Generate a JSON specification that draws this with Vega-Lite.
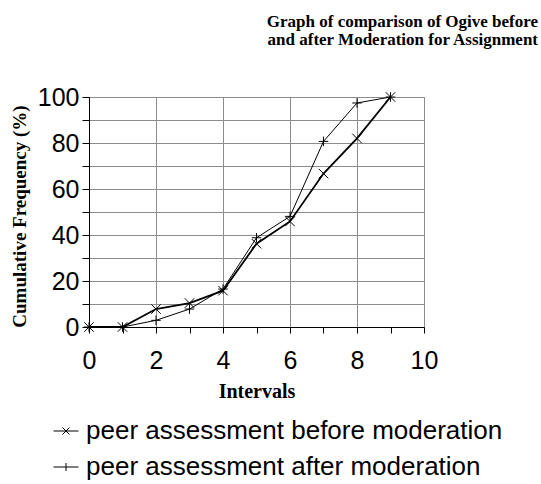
{
  "$schema": "https://vega.github.io/schema/vega-lite/v6.json",
  "width": 335,
  "height": 230,
  "autosize": {"type": "none"},
  "padding": {"left": 89, "top": 97, "right": 117, "bottom": 157},
  "background": "white",
  "title": {
    "text": ["Graph of comparison of Ogive before", "and after Moderation for Assignment"],
    "anchor": "end",
    "frame": "group",
    "font": "Liberation Serif",
    "fontSize": 17,
    "fontWeight": "bold",
    "color": "black",
    "lineHeight": 18,
    "dx": 114,
    "offset": 36
  },
  "data": {
    "values": [
      {"interval": 0, "freq": 0, "series": "peer assessment before moderation"},
      {"interval": 1, "freq": 0, "series": "peer assessment before moderation"},
      {"interval": 2, "freq": 7.8, "series": "peer assessment before moderation"},
      {"interval": 3, "freq": 10.4, "series": "peer assessment before moderation"},
      {"interval": 4, "freq": 15.8, "series": "peer assessment before moderation"},
      {"interval": 5, "freq": 36.2, "series": "peer assessment before moderation"},
      {"interval": 6, "freq": 45.9, "series": "peer assessment before moderation"},
      {"interval": 7, "freq": 66.7, "series": "peer assessment before moderation"},
      {"interval": 8, "freq": 82, "series": "peer assessment before moderation"},
      {"interval": 9, "freq": 100, "series": "peer assessment before moderation"},
      {"interval": 0, "freq": 0, "series": "peer assessment after moderation"},
      {"interval": 1, "freq": 0, "series": "peer assessment after moderation"},
      {"interval": 2, "freq": 2.9, "series": "peer assessment after moderation"},
      {"interval": 3, "freq": 7.8, "series": "peer assessment after moderation"},
      {"interval": 4, "freq": 16.5, "series": "peer assessment after moderation"},
      {"interval": 5, "freq": 38.8, "series": "peer assessment after moderation"},
      {"interval": 6, "freq": 48.1, "series": "peer assessment after moderation"},
      {"interval": 7, "freq": 80.7, "series": "peer assessment after moderation"},
      {"interval": 8, "freq": 97.4, "series": "peer assessment after moderation"},
      {"interval": 9, "freq": 100, "series": "peer assessment after moderation"}
    ]
  },
  "encoding": {
    "x": {
      "field": "interval",
      "type": "quantitative",
      "scale": {"domain": [0, 10], "nice": false, "zero": true},
      "axis": {
        "title": "Intervals",
        "values": [0, 1, 2, 3, 4, 5, 6, 7, 8, 9, 10],
        "labelExpr": "datum.value % 2 == 0 ? datum.label : ''",
        "gridOpacity": {"condition": {"test": "datum.value % 2 == 0", "value": 1}, "value": 0},
        "gridColor": "#8c8c8c",
        "domainColor": "black",
        "tickColor": "black",
        "tickSize": 6,
        "labelPadding": 15,
        "labelFont": "Liberation Sans",
        "labelFontSize": 25,
        "labelColor": "black",
        "labelFlush": false,
        "titleFont": "Liberation Serif",
        "titleFontSize": 20,
        "titleFontWeight": "bold",
        "titleColor": "black",
        "titlePadding": 8
      }
    },
    "y": {
      "field": "freq",
      "type": "quantitative",
      "scale": {"domain": [0, 100], "nice": false},
      "axis": {
        "title": "Cumulative Frequency (%)",
        "values": [0, 10, 20, 30, 40, 50, 60, 70, 80, 90, 100],
        "labelExpr": "datum.value % 20 == 0 ? datum.label : ''",
        "gridColor": "#8c8c8c",
        "domainColor": "black",
        "tickColor": "black",
        "tickSize": 7,
        "labelPadding": 3,
        "labelFont": "Liberation Sans",
        "labelFontSize": 25,
        "labelColor": "black",
        "labelFlush": false,
        "titleFont": "Liberation Serif",
        "titleFontSize": 19,
        "titleFontWeight": "bold",
        "titleColor": "black",
        "titlePadding": 8,
        "titleY": 119
      }
    }
  },
  "layer": [
    {
      "transform": [{"filter": "datum.series === 'peer assessment before moderation'"}],
      "mark": {"type": "line", "color": "black", "strokeWidth": 1.8},
      "encoding": {}
    },
    {
      "transform": [{"filter": "datum.series === 'peer assessment after moderation'"}],
      "mark": {"type": "line", "color": "black", "strokeWidth": 1},
      "encoding": {}
    },
    {
      "mark": {"type": "point", "filled": false, "color": "black", "size": 90, "strokeWidth": 1, "opacity": 1},
      "encoding": {
        "shape": {
          "field": "series",
          "type": "nominal",
          "scale": {
            "domain": ["peer assessment before moderation", "peer assessment after moderation"],
            "range": ["M-1,-1L1,1M-1,1L1,-1", "M-1,0L1,0M0,-1L0,1"]
          },
          "legend": null
        }
      }
    },
    {
      "transform": [{"filter": "false"}],
      "mark": {"type": "point", "filled": false, "color": "black", "size": 100, "strokeWidth": 1, "opacity": 1},
      "encoding": {
        "shape": {
          "field": "series",
          "type": "nominal",
          "scale": {
            "domain": ["peer assessment before moderation", "peer assessment after moderation"],
            "range": ["M-2.5,0L2.5,0M-0.7,-0.7L0.7,0.7M-0.7,0.7L0.7,-0.7", "M-2.5,0L2.5,0M0,-0.8L0,0.8"]
          },
          "legend": {
            "title": null,
            "orient": "none",
            "legendX": -36,
            "legendY": 321,
            "padding": 0,
            "symbolSize": 100,
            "symbolStrokeColor": "black",
            "symbolFillColor": "transparent",
            "symbolStrokeWidth": 1,
            "symbolOpacity": 1,
            "labelFont": "Liberation Sans",
            "labelFontSize": 26,
            "labelColor": "black",
            "labelOffset": 7,
            "labelLimit": 600,
            "rowPadding": 10
          }
        }
      }
    }
  ],
  "resolve": {"scale": {"shape": "independent"}, "legend": {"shape": "independent"}},
  "config": {
    "view": {"stroke": "#8c8c8c"},
    "axis": {"gridWidth": 1}
  }
}
